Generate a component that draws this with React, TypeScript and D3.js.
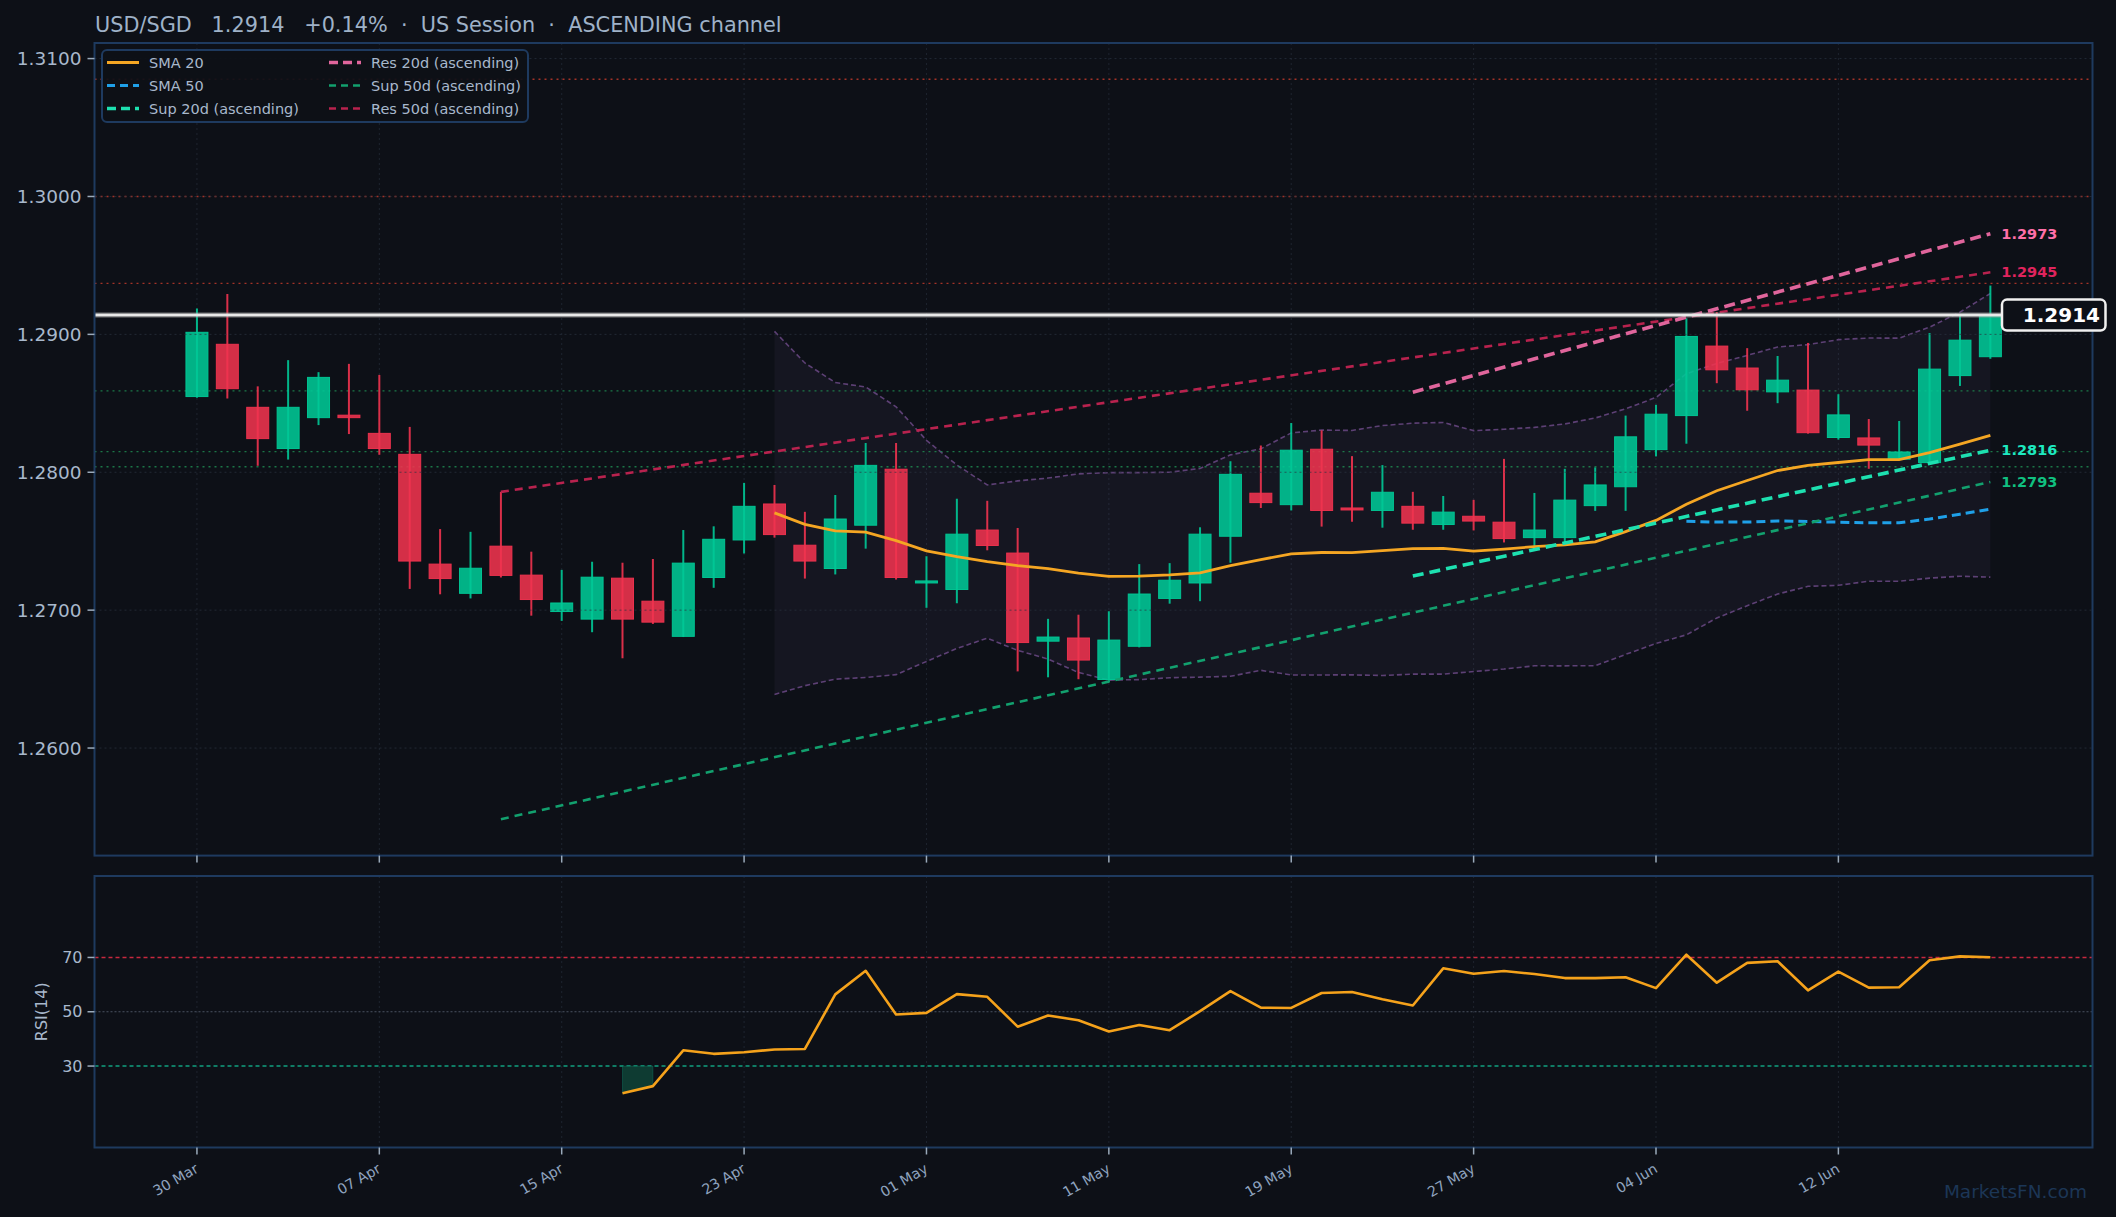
import React from "react";
import * as d3 from "d3";

const W = 2116;
const H = 1217;
const TITLE = "USD/SGD   1.2914   +0.14%  ·  US Session  ·  ASCENDING channel";

const opens = [
  1.28549, 1.28928, 1.28471, 1.28172, 1.28396, 1.28414, 1.28282, 1.2813, 1.27334, 1.27122,
  1.27464, 1.27254, 1.2699, 1.26935, 1.27232, 1.27065, 1.2681, 1.27237, 1.27509, 1.2777,
  1.27471, 1.27302, 1.27616, 1.28022, 1.27197, 1.2715, 1.27581, 1.27414, 1.26775, 1.26798,
  1.26497, 1.26738, 1.27085, 1.27197, 1.27536, 1.27848, 1.27765, 1.28167, 1.27741, 1.27723,
  1.27753, 1.27621, 1.27681, 1.27638, 1.27526, 1.27526, 1.27758, 1.27895, 1.28164, 1.28411,
  1.28915, 1.28756, 1.28583, 1.28596, 1.28252, 1.28249, 1.28095, 1.2807, 1.28701, 1.28838,
];
const highs = [
  1.29187, 1.29292, 1.28623, 1.28813, 1.28726, 1.28786, 1.28706, 1.28329, 1.27588, 1.27568,
  1.27858, 1.27424, 1.27292, 1.27351, 1.27344, 1.27371, 1.27581, 1.27608, 1.27923, 1.27908,
  1.27713, 1.27835, 1.28212, 1.28212, 1.27391, 1.27808, 1.27793, 1.27596, 1.26937, 1.26967,
  1.26992, 1.27334, 1.27341, 1.27601, 1.2808, 1.28194, 1.28357, 1.28304, 1.28117, 1.28052,
  1.27858, 1.27828, 1.278, 1.28097, 1.2785, 1.28025, 1.28035, 1.28411, 1.28489, 1.29117,
  1.29162, 1.289, 1.28843, 1.28938, 1.28566, 1.28386, 1.28372, 1.2901, 1.29137, 1.29354,
];
const lows = [
  1.2854, 1.28534, 1.28047, 1.28092, 1.28342, 1.28277, 1.28127, 1.27154, 1.27115, 1.27085,
  1.27237, 1.2696, 1.26922, 1.2684, 1.26651, 1.269, 1.26805, 1.27162, 1.27411, 1.27526,
  1.27229, 1.27259, 1.27446, 1.27222, 1.27017, 1.2705, 1.27434, 1.26556, 1.26513, 1.26499,
  1.26479, 1.2673, 1.27047, 1.27065, 1.27344, 1.27741, 1.27723, 1.27606, 1.27641, 1.27598,
  1.27583, 1.27583, 1.27578, 1.27491, 1.27466, 1.27486, 1.2772, 1.2772, 1.28115, 1.28207,
  1.28646, 1.28446, 1.28501, 1.2828, 1.28237, 1.28025, 1.2809, 1.28065, 1.28626, 1.28823,
];
const closes = [
  1.29015, 1.28606, 1.28244, 1.28471, 1.28688, 1.28396, 1.28172, 1.27356, 1.27229, 1.27304,
  1.27252, 1.27077, 1.27052, 1.27239, 1.26935, 1.26913, 1.27341, 1.27514, 1.27753, 1.27548,
  1.27356, 1.27661, 1.2805, 1.27237, 1.27212, 1.27551, 1.27469, 1.26765, 1.26805, 1.26638,
  1.26783, 1.27117, 1.27217, 1.27551, 1.27985, 1.2778, 1.2816, 1.27723, 1.27731, 1.27855,
  1.27631, 1.27711, 1.27646, 1.27519, 1.27581, 1.27798, 1.27908, 1.28257, 1.28421, 1.28985,
  1.28743, 1.28598, 1.28668, 1.28287, 1.28416, 1.28197, 1.28147, 1.28748, 1.28958, 1.2914,
];

const rsiStart = 14;
const rsiValues = [
  20.0, 22.6, 35.8, 34.5, 35.1, 36.1, 36.3, 56.4, 65.1, 49.0,
  49.6, 56.5, 55.5, 44.5, 48.6, 46.9, 42.7, 45.1, 43.2, 50.2,
  57.6, 51.5, 51.4, 56.9, 57.3, 54.6, 52.3, 66.0, 64.0, 65.0,
  63.9, 62.4, 62.4, 62.7, 58.7, 71.0, 60.7, 68.0, 68.6, 57.9,
  64.8, 58.9, 59.0, 69.0, 70.4, 70.1,
];

const tickLabels = ["30 Mar", "07 Apr", "15 Apr", "23 Apr", "01 May", "11 May", "19 May", "27 May", "04 Jun", "12 Jun"];
const tickStep = 6;
const priceTicks = [1.26, 1.27, 1.28, 1.29, 1.3, 1.31];
const rsiTicks = [30, 50, 70];
const resistanceLevels = [1.3085, 1.3, 1.2937];
const supportLevels = [1.2859, 1.2815, 1.2804];
const lastPrice = 1.2914;

// channel lines: [startIndex, startValue, endIndex, endValue]
const res20 = [40, 1.28581, 59, 1.2973];
const sup20 = [40, 1.27247, 59, 1.2816];
const res50 = [10, 1.27858, 59, 1.2945];
const sup50 = [10, 1.25484, 59, 1.2793];

const C = {
  bg: "#0d1017",
  frame: "#1e3a5f",
  text: "#a8b8cc",
  up: "#00c896",
  down: "#f0334f",
  sma20: "#f5a623",
  sma50: "#1fa0e8",
  sup20: "#1de0b0",
  res20: "#e0659c",
  sup50: "#12a06e",
  res50: "#b8224e",
  band: "#5d4075",
  rsi: "#f5a21b",
};

const FONT = "'DejaVu Sans', sans-serif";

const legendItems = [
  { label: "SMA 20", color: C.sma20, dash: "none", w: 3, col: 0, row: 0 },
  { label: "SMA 50", color: C.sma50, dash: "8,5", w: 3, col: 0, row: 1 },
  { label: "Sup 20d (ascending)", color: C.sup20, dash: "9,5", w: 3.5, col: 0, row: 2 },
  { label: "Res 20d (ascending)", color: C.res20, dash: "9,5", w: 3.5, col: 1, row: 0 },
  { label: "Sup 50d (ascending)", color: C.sup50, dash: "7,5", w: 2.5, col: 1, row: 1 },
  { label: "Res 50d (ascending)", color: C.res50, dash: "7,5", w: 2.5, col: 1, row: 2 },
];

export default function App() {
  const X0 = 94.5, X1 = 2092.5;
  const MY0 = 43, MY1 = 855.6;
  const RY0 = 876, RY1 = 1147.5;

  const x = d3.scaleLinear().domain([-3.37, 62.36]).range([X0, X1]);
  const y = d3.scaleLinear().domain([1.2522, 1.31113]).range([MY1, MY0]);
  const yr = d3.scaleLinear().domain([0, 100]).range([RY1, RY0]);

  const idx = d3.range(closes.length);
  const sma = (n: number) => idx.map((i) => (i < n - 1 ? null : (d3.mean(closes.slice(i - n + 1, i + 1)) as number)));
  const sma20 = sma(20);
  const sma50 = sma(50);
  const sd20 = idx.map((i) => (i < 19 ? null : (d3.deviation(closes.slice(i - 19, i + 1)) as number)));
  const bbUp = idx.map((i) => (sma20[i] == null ? null : (sma20[i] as number) + 2 * (sd20[i] as number)));
  const bbLo = idx.map((i) => (sma20[i] == null ? null : (sma20[i] as number) - 2 * (sd20[i] as number)));

  const line = d3
    .line<number | null>()
    .defined((d) => d != null)
    .x((_, i) => x(i))
    .y((d) => y(d as number));

  const area = d3
    .area<number>()
    .defined((i) => bbUp[i] != null)
    .x((i) => x(i))
    .y0((i) => y(bbLo[i] as number))
    .y1((i) => y(bbUp[i] as number));

  const rsiPts = rsiValues.map((v, k) => [rsiStart + k, v] as [number, number]);
  const rsiLine = d3
    .line<[number, number]>()
    .x((d) => x(d[0]))
    .y((d) => yr(d[1]));
  const oversold = rsiPts.filter((d) => d[1] < 30);
  const rsiArea = d3
    .area<[number, number]>()
    .x((d) => x(d[0]))
    .y0(yr(30))
    .y1((d) => yr(d[1]));

  const tickIdx = tickLabels.map((_, k) => k * tickStep);

  const chan = (c: number[], color: string, w: number, dash: string) => (
    <line x1={x(c[0])} y1={y(c[1])} x2={x(c[2])} y2={y(c[3])} stroke={color} strokeWidth={w} strokeDasharray={dash} />
  );

  const sideLabel = (c: number[], color: string) => (
    <text x={x(c[2]) + 11} y={y(c[3])} fill={color} fontSize={14.5} fontWeight="bold" dominantBaseline="central" fontFamily={FONT}>
      {c[3].toFixed(4)}
    </text>
  );

  return (
    <svg width={W} height={H} style={{ position: "absolute", left: 0, top: 0, display: "block" }} fontFamily={FONT}>
      <defs>
        <clipPath id="mainClip">
          <rect x={X0} y={MY0} width={X1 - X0} height={MY1 - MY0} />
        </clipPath>
        <clipPath id="rsiClip">
          <rect x={X0} y={RY0} width={X1 - X0} height={RY1 - RY0} />
        </clipPath>
      </defs>
      <rect x={0} y={0} width={W} height={H} fill={C.bg} />

      {/* title */}
      <text x={95} y={31.5} fill="#9fb2c8" fontSize={20.8} style={{ whiteSpace: "pre" }}>
        {TITLE}
      </text>

      {/* ===== main panel ===== */}
      <g clipPath="url(#mainClip)">
        {tickIdx.map((i) => (
          <line key={"vg" + i} x1={x(i)} x2={x(i)} y1={MY0} y2={MY1} stroke="#2a3240" strokeOpacity={0.6} strokeWidth={1} strokeDasharray="2,3" />
        ))}
        <path d={area(idx) || ""} fill="#6a5590" fillOpacity={0.09} />
        <path d={line(bbUp) || ""} fill="none" stroke={C.band} strokeWidth={1.6} strokeDasharray="5,3" />
        <path d={line(bbLo) || ""} fill="none" stroke={C.band} strokeWidth={1.6} strokeDasharray="5,3" />

        {resistanceLevels.map((v) => (
          <line key={"r" + v} x1={X0} x2={X1} y1={y(v)} y2={y(v)} stroke="#c0392b" strokeOpacity={0.85} strokeWidth={1.4} strokeDasharray="2,4" />
        ))}
        {supportLevels.map((v) => (
          <line key={"s" + v} x1={X0} x2={X1} y1={y(v)} y2={y(v)} stroke="#1f8a50" strokeOpacity={0.85} strokeWidth={1.4} strokeDasharray="2,4" />
        ))}

        {idx.map((i) => {
          const o = opens[i], c = closes[i];
          const up = c >= o;
          const col = up ? C.up : C.down;
          const top = y(Math.max(o, c));
          const bot = y(Math.min(o, c));
          return (
            <g key={"c" + i}>
              <line x1={x(i)} x2={x(i)} y1={y(highs[i])} y2={y(lows[i])} stroke={col} strokeWidth={2} strokeOpacity={0.9} />
              <rect x={x(i) - 11} y={top} width={22} height={Math.max(bot - top, 2)} fill={col} fillOpacity={0.88} stroke={col} strokeOpacity={0.95} strokeWidth={1} />
            </g>
          );
        })}

        {priceTicks.map((v) => (
          <line key={"hg" + v} x1={X0} x2={X1} y1={y(v)} y2={y(v)} stroke="#2b3342" strokeOpacity={0.7} strokeWidth={1} strokeDasharray="2,3" />
        ))}

        <path d={line(sma20) || ""} fill="none" stroke={C.sma20} strokeWidth={2.8} />
        <path d={line(sma50) || ""} fill="none" stroke={C.sma50} strokeWidth={3} strokeDasharray="9,5" />

        {chan(res50, C.res50, 2.6, "8,6")}
        {chan(sup50, C.sup50, 2.6, "8,6")}
        {chan(sup20, C.sup20, 3.6, "11,6")}
        {chan(res20, C.res20, 3.6, "11,6")}

        <line x1={X0} x2={X1} y1={y(lastPrice)} y2={y(lastPrice)} stroke="#9a9a9a" strokeOpacity={0.35} strokeWidth={6} />
        <line x1={X0} x2={X1} y1={y(lastPrice)} y2={y(lastPrice)} stroke="#e8e8e8" strokeWidth={3} />
      </g>
      <rect x={X0} y={MY0} width={X1 - X0} height={MY1 - MY0} fill="none" stroke={C.frame} strokeWidth={2} />

      {sideLabel(res20, "#ff6fa8")}
      {sideLabel(res50, "#e0245e")}
      {sideLabel(sup20, "#1de9c0")}
      {sideLabel(sup50, "#10c080")}

      <rect x={2002} y={y(lastPrice) - 15.5} width={103.5} height={31} rx={5} fill={C.bg} stroke="#f0f0f0" strokeWidth={2.5} />
      <text x={2100} y={y(lastPrice)} textAnchor="end" dominantBaseline="central" fill="#ffffff" fontSize={20} fontWeight="bold">
        {lastPrice.toFixed(4)}
      </text>

      {priceTicks.map((v) => (
        <g key={"yt" + v}>
          <line x1={X0 - 7} x2={X0} y1={y(v)} y2={y(v)} stroke="#9aaabb" strokeWidth={1.5} />
          <text x={X0 - 13} y={y(v)} textAnchor="end" dominantBaseline="central" fill={C.text} fontSize={18.5}>
            {v.toFixed(4)}
          </text>
        </g>
      ))}
      {tickIdx.map((i) => (
        <line key={"xt" + i} x1={x(i)} x2={x(i)} y1={MY1} y2={MY1 + 7} stroke="#9aaabb" strokeWidth={1.5} />
      ))}

      <g>
        <rect x={102} y={50} width={426} height={72} rx={5} fill={C.bg} fillOpacity={0.92} stroke={C.frame} strokeWidth={2} />
        {legendItems.map((it) => {
          const lx = it.col === 0 ? 107 : 329;
          const ly = 62.5 + it.row * 23;
          return (
            <g key={it.label}>
              <line x1={lx} x2={lx + 32} y1={ly} y2={ly} stroke={it.color} strokeWidth={it.w} strokeDasharray={it.dash} />
              <text x={lx + 42} y={ly} dominantBaseline="central" fill={C.text} fontSize={14.5}>
                {it.label}
              </text>
            </g>
          );
        })}
      </g>

      {/* ===== RSI panel ===== */}
      <g clipPath="url(#rsiClip)">
        {tickIdx.map((i) => (
          <line key={"rvg" + i} x1={x(i)} x2={x(i)} y1={RY0} y2={RY1} stroke="#2a3240" strokeOpacity={0.6} strokeWidth={1} strokeDasharray="2,3" />
        ))}
        <line x1={X0} x2={X1} y1={yr(70)} y2={yr(70)} stroke="#c8283f" strokeWidth={1.6} strokeDasharray="4,3" />
        <line x1={X0} x2={X1} y1={yr(30)} y2={yr(30)} stroke="#10a080" strokeWidth={1.6} strokeDasharray="4,3" />
        <line x1={X0} x2={X1} y1={yr(50)} y2={yr(50)} stroke="#4a5262" strokeWidth={1.2} strokeDasharray="2,2" />
        <path d={rsiArea(oversold) || ""} fill="#0f4a3c" fillOpacity={0.75} stroke="#10a080" strokeOpacity={0.3} />
        <path d={rsiLine(rsiPts) || ""} fill="none" stroke={C.rsi} strokeWidth={2.6} strokeLinejoin="round" />
      </g>
      <rect x={X0} y={RY0} width={X1 - X0} height={RY1 - RY0} fill="none" stroke={C.frame} strokeWidth={2} />
      {rsiTicks.map((v) => (
        <g key={"ryt" + v}>
          <line x1={X0 - 7} x2={X0} y1={yr(v)} y2={yr(v)} stroke="#9aaabb" strokeWidth={1.5} />
          <text x={X0 - 12} y={yr(v)} textAnchor="end" dominantBaseline="central" fill={C.text} fontSize={16}>
            {v}
          </text>
        </g>
      ))}
      <text transform={`translate(41, ${(RY0 + RY1) / 2}) rotate(-90)`} textAnchor="middle" dominantBaseline="central" fill={C.text} fontSize={16}>
        RSI(14)
      </text>
      {tickIdx.map((i, k) => (
        <g key={"rxt" + i}>
          <line x1={x(i)} x2={x(i)} y1={RY1} y2={RY1 + 7} stroke="#9aaabb" strokeWidth={1.5} />
          <text transform={`translate(${x(i) + 2.5}, ${RY1 + 24}) rotate(-30)`} textAnchor="end" fill="#8fa3bf" fontSize={14.2}>
            {tickLabels[k]}
          </text>
        </g>
      ))}

      <text x={2087} y={1198} textAnchor="end" fill="#1c3656" fontSize={18.5}>
        MarketsFN.com
      </text>
    </svg>
  );
}
